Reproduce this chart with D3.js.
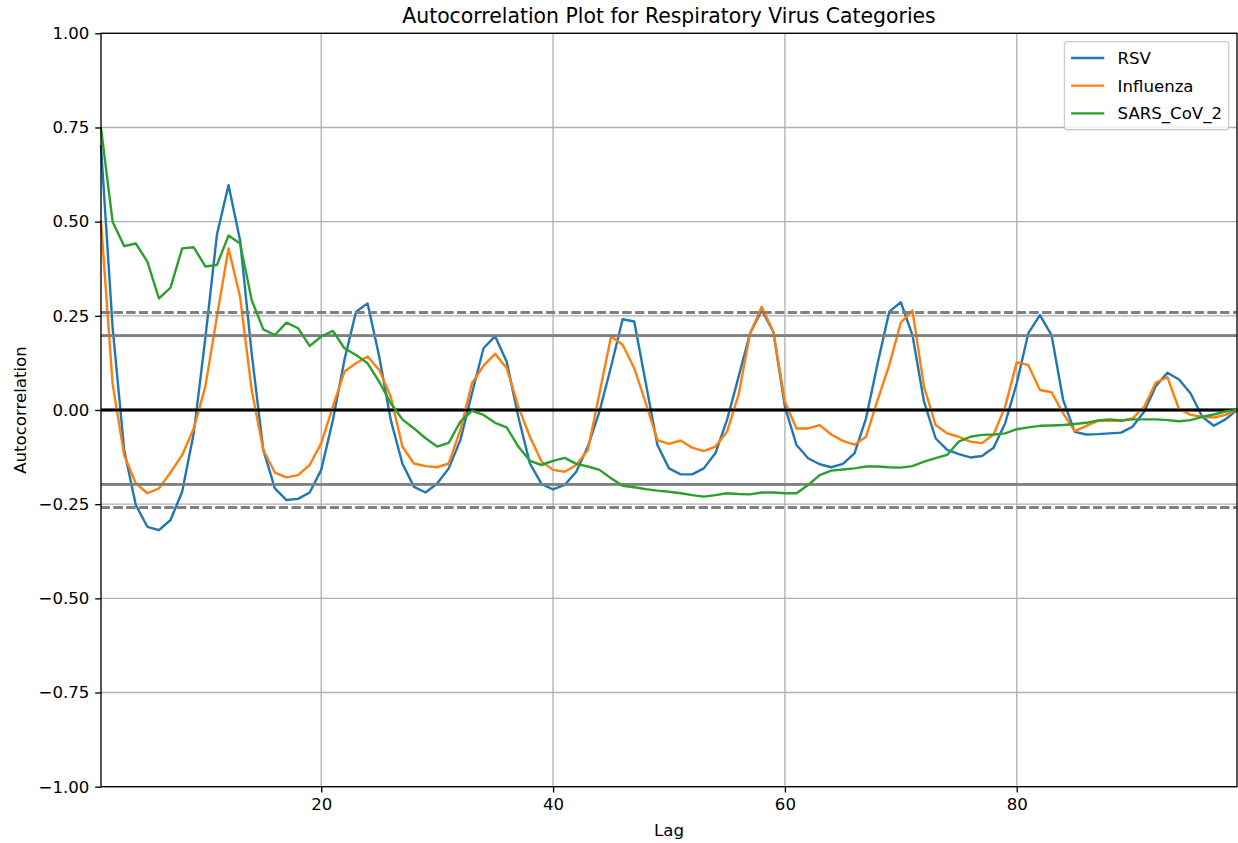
<!DOCTYPE html>
<html>
<head>
<meta charset="utf-8">
<script src="https://cdn.jsdelivr.net/npm/d3@7"></script>
<style>
  html, body { margin: 0; padding: 0; background: #fff; }
  svg { display: block; font-family: "DejaVu Sans", sans-serif; }
</style>
</head>
<body>
<svg id="chart" width="1238" height="843"></svg>
<script>
// Autocorrelation coefficients for lags 1..99
const lags = d3.range(1, 100);

const rsv = [
  0.70, 0.22, -0.106, -0.252, -0.31, -0.319, -0.292, -0.217, -0.062, 0.19,
  0.465, 0.597, 0.45, 0.15, -0.106, -0.208, -0.239, -0.236, -0.219, -0.159,
  -0.027, 0.133, 0.261, 0.283, 0.142, -0.027, -0.142, -0.204, -0.219, -0.195,
  -0.155, -0.08, 0.044, 0.164, 0.196, 0.128, -0.018, -0.142, -0.196, -0.211,
  -0.199, -0.164, -0.097, -0.004, 0.115, 0.241, 0.235, 0.071, -0.093, -0.155,
  -0.171, -0.171, -0.155, -0.115, -0.027, 0.088, 0.204, 0.265, 0.208, 0.009,
  -0.093, -0.128, -0.144, -0.152, -0.143, -0.115, -0.022, 0.124, 0.261, 0.286,
  0.199, 0.022, -0.075, -0.106, -0.117, -0.126, -0.122, -0.10, -0.035, 0.071,
  0.204, 0.252, 0.199, 0.027, -0.058, -0.065, -0.064, -0.062, -0.06, -0.044,
  -0.004, 0.064, 0.099, 0.081, 0.044, -0.018, -0.042, -0.025, 0.0
];

const influenza = [
  0.50, 0.07, -0.12, -0.195, -0.221, -0.208, -0.166, -0.12, -0.049, 0.062,
  0.248, 0.429, 0.30, 0.053, -0.106, -0.166, -0.179, -0.173, -0.146, -0.088,
  0.009, 0.102, 0.124, 0.142, 0.106, 0.035, -0.097, -0.142, -0.149, -0.152,
  -0.142, -0.053, 0.071, 0.118, 0.149, 0.111, 0.009, -0.071, -0.137, -0.159,
  -0.164, -0.146, -0.106, 0.044, 0.195, 0.173, 0.111, 0.018, -0.08, -0.09,
  -0.081, -0.10, -0.109, -0.097, -0.058, 0.04, 0.204, 0.274, 0.208, 0.022,
  -0.049, -0.049, -0.04, -0.065, -0.082, -0.092, -0.071, 0.027, 0.119, 0.232,
  0.264, 0.062, -0.04, -0.062, -0.071, -0.084, -0.088, -0.065, 0.009, 0.127,
  0.119, 0.053, 0.047, -0.009, -0.056, -0.042, -0.029, -0.028, -0.029, -0.022,
  0.009, 0.073, 0.087, 0.002, -0.013, -0.018, -0.02, -0.013, 0.0
];

const sarsCov2 = [
  0.748, 0.50, 0.435, 0.442, 0.394, 0.296, 0.325, 0.429, 0.432, 0.381,
  0.385, 0.463, 0.442, 0.292, 0.214, 0.199, 0.232, 0.217, 0.17, 0.195,
  0.21, 0.164, 0.146, 0.124, 0.075, 0.018, -0.025, -0.049, -0.075, -0.097,
  -0.087, -0.031, -0.002, -0.013, -0.034, -0.046, -0.097, -0.135, -0.146, -0.135,
  -0.127, -0.143, -0.15, -0.159, -0.181, -0.201, -0.205, -0.21, -0.214, -0.217,
  -0.221, -0.226, -0.23, -0.226, -0.221, -0.223, -0.224, -0.219, -0.219, -0.221,
  -0.221, -0.199, -0.173, -0.161, -0.158, -0.155, -0.15, -0.15, -0.152, -0.153,
  -0.149, -0.137, -0.128, -0.119, -0.084, -0.071, -0.066, -0.065, -0.062, -0.051,
  -0.046, -0.042, -0.041, -0.04, -0.037, -0.034, -0.028, -0.025, -0.028, -0.025,
  -0.025, -0.025, -0.027, -0.03, -0.027, -0.018, -0.012, -0.004, 0.0
];

const seriesNames = ["RSV", "Influenza", "SARS_CoV_2"];
const seriesColors = ["#1f77b4", "#ff7f0e", "#2ca02c"];
const seriesValues = [rsv, influenza, sarsCov2];

const xTicks = [20, 40, 60, 80];
const yTicks = [-1, -0.75, -0.5, -0.25, 0, 0.25, 0.5, 0.75, 1];

const n = lags.length;
const z95 = 1.959963984540054 / Math.sqrt(n);
const z99 = 2.5758293035489 / Math.sqrt(n);

// Layout (pt = pixels per typographic point)
const pt = 1.66;
const plot = { left: 101, right: 1237, top: 33.3, bottom: 786.7 };
const svg = d3.select("#chart");

const x = d3.scaleLinear().domain([1, n]).range([plot.left, plot.right]);
const y = d3.scaleLinear().domain([-1, 1]).range([plot.bottom, plot.top]);

// Grid
const grid = svg.append("g");
grid.selectAll("line.gx").data(xTicks).join("line")
  .attr("x1", d => x(d)).attr("x2", d => x(d))
  .attr("y1", plot.top).attr("y2", plot.bottom)
  .attr("stroke", "#b0b0b0").attr("stroke-width", 0.8 * pt);
grid.selectAll("line.gy").data(yTicks).join("line")
  .attr("x1", plot.left).attr("x2", plot.right)
  .attr("y1", d => y(d)).attr("y2", d => y(d))
  .attr("stroke", "#b0b0b0").attr("stroke-width", 0.8 * pt);

// Reference lines (confidence bands and zero), redrawn with each series
const dash = `${3.7 * 1.5 * 1.6},${1.6 * 1.5 * 1.6}`;
const refLines = [
  { v: z99, color: "#808080", dash: dash },
  { v: z95, color: "#808080", dash: null },
  { v: 0, color: "#000000", dash: null },
  { v: -z95, color: "#808080", dash: null },
  { v: -z99, color: "#808080", dash: dash }
];

const line = d3.line().x((d, i) => x(lags[i])).y(d => y(d));

const marks = svg.append("g");
seriesValues.forEach((vals, k) => {
  refLines.forEach(r => {
    marks.append("line")
      .attr("x1", plot.left).attr("x2", plot.right)
      .attr("y1", y(r.v)).attr("y2", y(r.v))
      .attr("stroke", r.color).attr("stroke-width", 2.4)
      .attr("stroke-dasharray", r.dash);
  });
  marks.append("path")
    .datum(vals)
    .attr("d", line)
    .attr("fill", "none")
    .attr("stroke", seriesColors[k])
    .attr("stroke-width", 2.4)
    .attr("stroke-linejoin", "round")
    .attr("stroke-linecap", "square");
});

// Axes
const tickFont = 10 * pt;
const fmt = d => (d < 0 ? "\u2212" : "") + Math.abs(d).toFixed(2);
const xAxis = d3.axisBottom(x).tickValues(xTicks).tickSize(3.5 * pt).tickPadding(3.5 * pt).tickFormat(d3.format("d"));
const yAxis = d3.axisLeft(y).tickValues(yTicks).tickSize(3.5 * pt).tickPadding(3.5 * pt).tickFormat(fmt);

const gx = svg.append("g").attr("transform", `translate(0,${plot.bottom})`).call(xAxis);
const gy = svg.append("g").attr("transform", `translate(${plot.left},0)`).call(yAxis);
[gx, gy].forEach(g => {
  g.select(".domain").remove();
  g.selectAll(".tick line").attr("stroke", "#000").attr("stroke-width", 0.8 * pt);
  g.selectAll(".tick text").attr("fill", "#000").style("font-size", tickFont + "px")
    .style("font-family", "DejaVu Sans, sans-serif");
});

// Spines
svg.append("rect")
  .attr("x", plot.left).attr("y", plot.top)
  .attr("width", plot.right - plot.left).attr("height", plot.bottom - plot.top)
  .attr("fill", "none").attr("stroke", "#000").attr("stroke-width", 0.8 * pt);

// Labels
svg.append("text")
  .attr("x", (plot.left + plot.right) / 2).attr("y", plot.top - 6 * pt - 0.3)
  .attr("text-anchor", "middle").style("font-size", "20.4px")
  .text("Autocorrelation Plot for Respiratory Virus Categories");
svg.append("text")
  .attr("x", (plot.left + plot.right) / 2).attr("y", 836)
  .attr("text-anchor", "middle").style("font-size", tickFont + "px")
  .text("Lag");
svg.append("text")
  .attr("transform", `translate(26,${(plot.top + plot.bottom) / 2}) rotate(-90)`)
  .attr("text-anchor", "middle").style("font-size", tickFont + "px")
  .text("Autocorrelation");

// Legend
const fs = tickFont;
const legend = svg.append("g");
const lgRight = plot.right - 0.5 * fs;
const lgTop = plot.top + 0.5 * fs;
const rowH = fs * 1.17;
const lgHeight = 0.4 * fs * 2 + rowH * 3 + 0.5 * fs * 2;
const frame = legend.append("rect");
const labels = [];
const handleX0 = 0.4 * fs;
const handleX1 = handleX0 + 2 * fs;
const textX = handleX1 + 0.8 * fs;
seriesNames.forEach((name, k) => {
  const cy = lgTop + 0.4 * fs + rowH / 2 + k * (rowH + 0.5 * fs);
  const ln = legend.append("line")
    .attr("y1", cy).attr("y2", cy)
    .attr("stroke", seriesColors[k]).attr("stroke-width", 2.4);
  const tx = legend.append("text")
    .attr("y", cy).attr("dy", "0.36em")
    .style("font-size", fs + "px")
    .text(name);
  labels.push({ ln, tx });
});
const maxText = d3.max(labels, d => d.tx.node().getComputedTextLength());
const lgWidth = textX + maxText + 0.4 * fs;
const lgLeft = lgRight - lgWidth;
labels.forEach(({ ln, tx }) => {
  ln.attr("x1", lgLeft + handleX0).attr("x2", lgLeft + handleX1);
  tx.attr("x", lgLeft + textX);
});
frame
  .attr("x", lgLeft).attr("y", lgTop)
  .attr("width", lgWidth).attr("height", lgHeight)
  .attr("rx", 3).attr("ry", 3)
  .attr("fill", "rgba(255,255,255,0.8)")
  .attr("stroke", "#cccccc").attr("stroke-width", 0.8 * pt);
</script>
</body>
</html>
